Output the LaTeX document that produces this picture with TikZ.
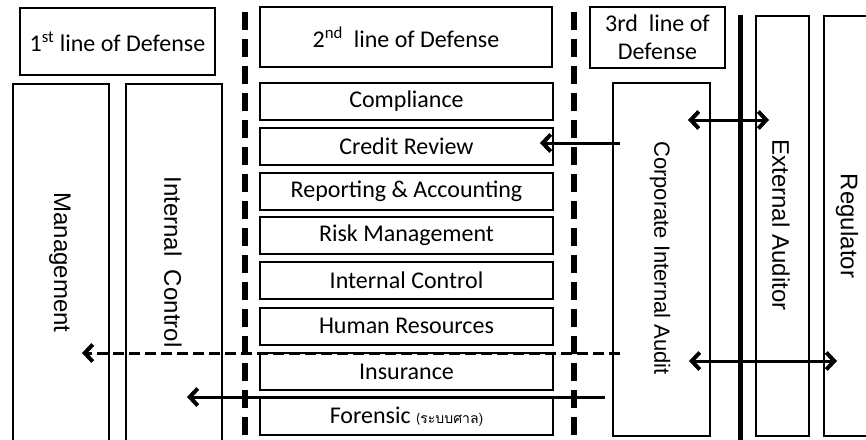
\documentclass[tikz,border=0pt]{standalone}
\usepackage{fontspec}
\setmainfont{Carlito}
\newfontfamily\vfont{Liberation Sans}
\newfontfamily\thaifont[Script=Thai]{Loma}
\usetikzlibrary{arrows.meta,calc}

\begin{document}
\begin{tikzpicture}[x=1pt,y=-1pt,
  box/.style={draw, line width=2pt, inner sep=0pt, align=center,
    font=\fontsize{24}{28}\selectfont},
  colbox/.style={draw, line width=2pt, inner sep=0pt, anchor=north west},
  vlabel/.style={rotate=-90, inner sep=0pt, font=\vfont\fontsize{24}{28}\selectfont},
  divider/.style={line width=6pt, dash pattern=on 18pt off 9pt},
  barb/.tip={Straight Barb[length=8pt,width=17pt,line width=4pt]},
  arr/.style={line width=3pt, -barb},
  dblarr/.style={line width=3pt, barb-barb},
  dasharr/.style={line width=3pt, -barb, dash pattern=on 11pt off 5pt}
]
\useasboundingbox (0,0) rectangle (866,439);
\clip (0,0) rectangle (866,439);

% headers of the three lines of defense
\node[box, minimum width=195, minimum height=67] (h1) at (117.5,41.5)
  {1\textsuperscript{st} line of Defense};
\node[box, minimum width=292, minimum height=60] (h2) at (406,37)
  {2\textsuperscript{nd}\ \ line of Defense};
\node[box, minimum width=135, minimum height=61] (h3) at (657.5,37.5)
  {3rd\ \ line of\\Defense};

% first line: tall columns
\node[colbox, minimum width=96, minimum height=380] (mgmt) at (12,83) {};
\node[vlabel] (mgmtL) at (60,262.5) {Management};
\node[colbox, minimum width=96, minimum height=380] (ic) at (125,83) {};
\node[vlabel] (icL) at (173,262) {Internal\ \ Control};

% second line: stacked functions
\node[box, minimum width=293, minimum height=37] (comp) at (406.5,101.5) {Compliance};
\node[box, minimum width=293, minimum height=37] (cr)   at (406.5,146.5) {Credit Review};
\node[box, minimum width=293, minimum height=37] (rep)  at (406.5,191)   {Reporting \& Accounting};
\node[box, minimum width=293, minimum height=37] (rm)   at (406.5,235.5) {Risk Management};
\node[box, minimum width=293, minimum height=37] (ic2)  at (406.5,280.5) {Internal Control};
\node[box, minimum width=293, minimum height=37] (hr)   at (406.5,326)   {Human Resources};
\node[box, minimum width=293, minimum height=37] (ins)  at (406.5,371.5) {Insurance};
\node[box, minimum width=293, minimum height=37] (for)  at (406.5,416.5)
  {Forensic {\fontsize{14}{16}\selectfont(\thaifont ระบบศาล)}};

% third line and outside parties
\node[colbox, minimum width=97, minimum height=353] (cia) at (612,82) {};
\node[vlabel, font=\vfont\fontsize{22}{26}\selectfont] (ciaL) at (660,258) {Corporate Internal Audit};
\node[colbox, minimum width=53, minimum height=420] (ext) at (755,15) {};
\node[vlabel] (extL) at (781,225) {External Auditor};
\node[colbox, minimum width=70, minimum height=420] (reg) at (823,15) {};
\node[vlabel] (regL) at (847,226) {Regulator};

% separators
\draw[divider] (245,12) -- (245,445);
\draw[divider] (574,12) -- (574,445);
\draw[line width=5pt] (740,15) -- (740,445);

% arrow end points
\coordinate (topA) at (688,120);
\coordinate (topB) at (769,120);
\coordinate (crTail) at (620,143);
\coordinate (crHead) at (540,143);
\coordinate (dTail) at (620,353);
\coordinate (dHead) at (82,353);
\coordinate (fTail) at (605,397);
\coordinate (fHead) at (187,397);
\coordinate (botA) at (689,361);
\coordinate (botB) at (837,361);

\draw[dblarr] (topA) -- (topB);
\draw[arr] (crTail) -- (crHead);
\draw[dasharr] (dTail) -- (dHead);
\draw[arr] (fTail) -- (fHead);
\draw[dblarr] (botA) -- (botB);
\end{tikzpicture}
\end{document}
